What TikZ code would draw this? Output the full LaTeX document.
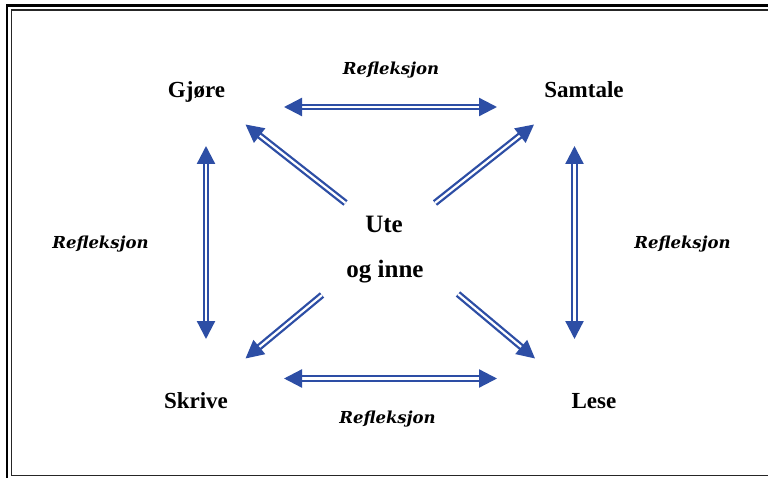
\documentclass[tikz,border=0pt]{standalone}
\usepackage{fontspec}
\setmainfont{Liberation Serif}
\newfontfamily\reffont{DejaVu Serif}
\usetikzlibrary{arrows.meta}
\definecolor{arrowblue}{RGB}{45,78,165}
\begin{document}
\begin{tikzpicture}[x=1pt,y=-1pt,
  lbl/.style={font=\fontsize{23}{26}\selectfont\bfseries, inner sep=0pt, anchor=base},
  biglbl/.style={lbl, font=\fontsize{25}{28}\selectfont\bfseries},
  refl/.style={font=\reffont\fontsize{16.5}{19}\selectfont\bfseries\itshape, inner sep=0pt, anchor=base},
  dblarrow/.style={draw=arrowblue, double=white, line width=2.3pt, double distance=2.2pt, {Triangle[length=18pt,width=18pt]}-{Triangle[length=18pt,width=18pt]}},
  onearrow/.style={draw=arrowblue, double=white, line width=2.3pt, double distance=2.2pt, -{Triangle[length=18pt,width=18pt]}},
  frameouter/.style={draw=black, line width=2.8pt},
  frameinner/.style={draw=black!85, line width=1.8pt}]
\useasboundingbox (0,0) rectangle (768,478);
\clip (0,0) rectangle (768,478);
\fill[white] (0,0) rectangle (768,478);
% frame
\draw[frameouter] (7,5.5) rectangle (900,600);
\draw[frameinner] (11.5,10) rectangle (890,475.5);
% labels
\node[lbl] (gjore) at (196.5,98) {Gjøre};
\node[lbl] (samtale) at (584,98) {Samtale};
\node[lbl] (skrive) at (196,408) {Skrive};
\node[lbl] (lese) at (594,408) {Lese};
\node[biglbl] (ute) at (384,233) {Ute};
\node[biglbl] (oginne) at (385,277) {og inne};
\node[refl] (rtop) at (391,75) {Refleksjon};
\node[refl] (rbot) at (387.5,423) {Refleksjon};
\node[refl] (rleft) at (100.5,249) {Refleksjon};
\node[refl] (rright) at (682.5,249) {Refleksjon};
% arrow end points
\coordinate (th1) at (284,107);
\coordinate (th2) at (497,107);
\coordinate (bh1) at (284,378.5);
\coordinate (bh2) at (497,378.5);
\coordinate (lv1) at (206,146);
\coordinate (lv2) at (206,339);
\coordinate (rv1) at (574.5,146);
\coordinate (rv2) at (574.5,339);
\coordinate (c1) at (345.5,203);
\coordinate (c2) at (435,203);
\coordinate (c3) at (322,295);
\coordinate (c4) at (458,294);
\coordinate (t1) at (245.5,124.5);
\coordinate (t2) at (534,124.5);
\coordinate (t3) at (245.5,358.5);
\coordinate (t4) at (535,358.5);
% arrows
\draw[dblarrow] (th1) -- (th2);
\draw[dblarrow] (bh1) -- (bh2);
\draw[dblarrow] (lv1) -- (lv2);
\draw[dblarrow] (rv1) -- (rv2);
\draw[onearrow] (c1) -- (t1);
\draw[onearrow] (c2) -- (t2);
\draw[onearrow] (c3) -- (t3);
\draw[onearrow] (c4) -- (t4);
\end{tikzpicture}
\end{document}
